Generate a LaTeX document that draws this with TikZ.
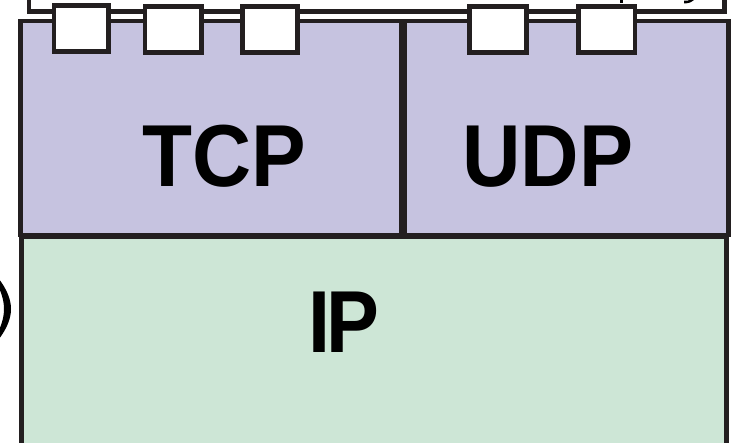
\documentclass[tikz,border=0pt]{standalone}
\usepackage{fontspec}
\usepackage{graphicx}
\setmainfont{Liberation Sans}
\definecolor{tcpfill}{RGB}{198,195,224}
\definecolor{ipfill}{RGB}{205,230,214}
\definecolor{edge}{RGB}{35,31,32}
\tikzset{
  box/.style={draw=edge, line width=4.8pt},
  port/.style={draw=edge, fill=white, line width=4.8pt},
  big/.style={font=\fontsize{88}{88}\selectfont\bfseries, inner sep=0pt, anchor=base, text=black}
}
\begin{document}
\begin{tikzpicture}[x=1pt,y=-1pt]
\useasboundingbox (0,0) rectangle (734,443);
\clip (0,0) rectangle (734,443);
% application box (mostly above the picture)
\draw[box, fill=white] (29,-30) rectangle (724.5,11.7);
% descender fragments of the cut-off label
\fill[black] (620,-1) rectangle (623.3,2.8);
\fill[black] (684,3.4) .. controls (689,3.6) and (692,2) .. (695,-1) -- (691,-1) .. controls (689,0.8) and (687,1) .. (684,0.6) -- cycle;
% cut-off closing parenthesis at the left
\fill[black] (-1,279) .. controls (6.5,289) and (11,299) .. (11,309) .. controls (11,319) and (6.5,329) .. (-1,339) -- (-4,336) .. controls (1,327) and (4,318) .. (4,309) .. controls (4,300) and (1,291) .. (-4,282) -- cycle;
% IP box
\draw[box, fill=ipfill] (21.7,237) rectangle (726.5,470);
% TCP and UDP boxes
\draw[box, fill=tcpfill] (20.5,21) rectangle (401.5,235);
\draw[box, fill=tcpfill] (405,21) rectangle (728.3,235);
% ports
\draw[port] (54,5.6) rectangle (108.7,51.7);
\draw[port] (145,6.6) rectangle (201.7,52.7);
\draw[port] (242.3,6.6) rectangle (297.7,52.7);
\draw[port] (469.3,6.6) rectangle (526.4,52.7);
\draw[port] (578.6,6.6) rectangle (635,52.7);
% labels
\node[big] (tcp) at (224.5,187) {\scalebox{0.93}[1]{TCP}};
\node[big] (udp) at (548,187) {\scalebox{0.92}[1]{UDP}};
\node[big] (ip) at (344,353) {\scalebox{0.9}[1]{I\kern-4ptP}};
\end{tikzpicture}
\end{document}
